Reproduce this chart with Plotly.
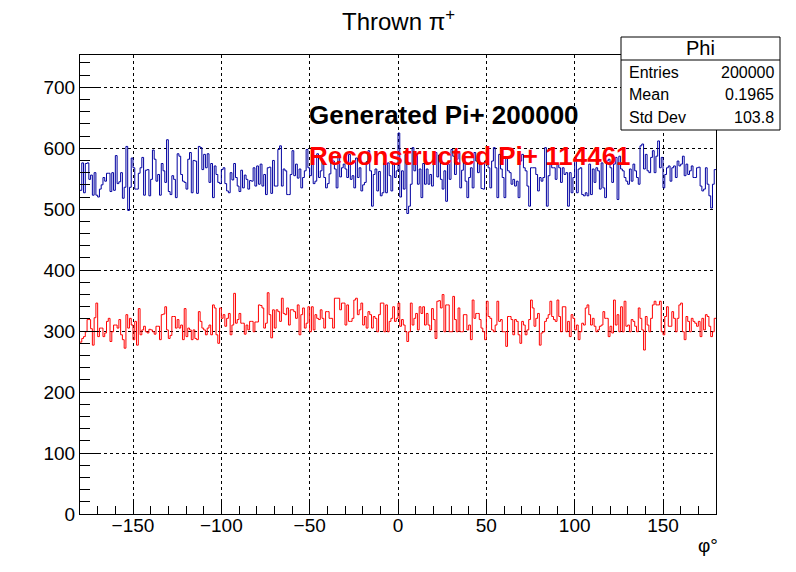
import numpy as np
import plotly.graph_objects as go

# 360 bins from -180 to 180 degrees
bin_lo, bin_hi, n_bins = -180.0, 180.0, 360

generated = [
    531,576,527,575,576,549,556,523,560,523,
    520,533,540,552,546,559,559,529,560,531,
    588,542,545,560,518,536,603,498,536,584,
    568,533,533,559,568,585,523,564,565,522,
    549,597,582,546,557,523,575,563,544,614,
    529,524,555,549,519,591,587,557,546,544,
    533,582,593,527,580,579,526,603,601,565,
    590,568,591,544,575,519,571,557,544,542,
    565,568,542,530,527,560,548,575,552,538,
    529,564,535,556,549,533,547,546,568,538,
    571,541,574,538,557,524,568,569,526,580,
    538,538,598,604,538,566,563,524,524,557,
    596,555,574,551,566,535,552,563,598,568,
    555,590,542,546,591,552,563,579,552,535,
    542,558,584,579,566,535,589,553,568,574,
    566,552,590,549,555,535,584,552,568,530,
    540,544,578,596,563,505,557,566,530,562,
    522,527,576,527,576,555,530,576,552,563,
    625,520,563,533,590,493,505,541,601,563,
    591,541,566,519,575,541,566,541,557,538,
    575,593,553,589,549,533,563,513,574,549,
    598,587,557,582,593,535,564,585,546,519,
    552,568,535,593,579,560,574,534,533,579,
    574,568,535,579,601,568,519,590,566,552,
    519,585,563,560,541,549,538,546,519,579,
    590,568,563,538,505,568,568,568,557,530,
    552,546,552,601,505,555,574,568,568,549,
    574,568,544,568,557,560,505,560,527,552,
    585,527,566,568,524,522,527,522,574,524,
    566,544,568,563,533,576,535,519,579,582,
    568,544,574,585,516,587,566,563,552,546,
    541,566,546,574,563,552,541,604,607,566,
    590,563,560,585,596,560,587,612,568,585,
    535,557,568,571,546,568,571,552,579,571,
    574,587,555,574,557,563,571,552,552,568,
    569,538,530,533,568,541,522,502,541,565,
]

reconstructed = [
    282,288,291,299,319,319,304,277,322,346,
    291,305,305,291,297,316,321,283,299,310,
    310,305,319,294,286,272,327,305,321,310,
    286,316,277,337,294,302,308,299,297,303,
    302,299,295,308,308,286,327,328,340,302,
    288,293,324,324,305,319,305,310,286,337,
    291,305,302,286,302,288,286,332,316,305,
    302,294,305,310,294,343,338,294,280,338,
    321,327,308,321,329,294,310,362,313,319,
    329,313,313,295,310,302,316,316,299,315,
    315,343,342,338,305,313,363,327,289,335,
    305,335,332,316,354,329,327,338,310,335,
    335,332,321,343,294,327,338,305,313,340,
    299,340,302,327,321,319,335,321,305,332,
    332,321,321,305,354,354,354,335,346,346,
    310,343,316,316,321,351,354,327,335,346,
    310,324,305,332,327,305,324,321,299,327,
    346,346,299,343,299,316,321,340,316,321,
    346,308,319,310,299,283,299,346,310,321,
    329,302,340,329,340,310,329,310,302,337,
    319,288,349,350,338,360,299,343,343,299,
    299,357,319,299,338,299,299,327,327,302,
    310,286,351,321,329,329,319,305,299,286,
    349,324,321,302,299,310,349,316,319,299,
    299,275,324,324,319,294,319,316,294,280,
    316,310,294,302,319,351,338,308,321,329,
    277,297,299,316,321,327,349,324,319,316,
    351,324,299,340,340,299,316,291,327,321,
    302,310,286,299,313,310,338,343,327,310,
    321,308,299,302,308,310,332,321,321,291,
    308,297,351,310,327,299,340,299,349,308,
    310,299,319,316,308,299,338,321,302,269,
    324,310,299,321,343,349,343,343,349,299,
    294,324,340,308,308,332,321,299,321,343,
    346,299,286,324,316,299,321,316,313,308,
    316,291,321,302,327,324,308,291,299,321,
]

stats_labels = ["Entries", "Mean", "Std Dev"]
stats_values = ["200000", "0.1965", "103.8"]
x_ticks = [-150, -100, -50, 0, 50, 100, 150]
y_ticks = [0, 100, 200, 300, 400, 500, 600, 700]

edges = np.linspace(bin_lo, bin_hi, n_bins + 1)


def step_xy(vals):
    return list(edges), list(vals) + [vals[-1]]


FONT = "Liberation Sans, Arial, Helvetica, sans-serif"

fig = go.Figure()
gx, gy = step_xy(generated)
rx, ry = step_xy(reconstructed)
fig.add_trace(go.Scatter(x=gx, y=gy, mode="lines", line=dict(color="#0000a0", width=1, shape="hv"),
                         hoverinfo="skip", showlegend=False))
fig.add_trace(go.Scatter(x=rx, y=ry, mode="lines", line=dict(color="#ff0000", width=1, shape="hv"),
                         hoverinfo="skip", showlegend=False))

axis_common = dict(
    showline=True, linecolor="black", linewidth=1, mirror=True,
    ticks="inside", tickcolor="black", tickwidth=1,
    showgrid=True, gridcolor="black", griddash="dot", gridwidth=1,
    zeroline=False, tickfont=dict(family=FONT, size=19, color="black"),
)

fig.update_xaxes(range=[bin_lo, bin_hi], tickmode="array", tickvals=x_ticks, ticklen=15,
                 ticklabelstandoff=-6,
                 minor=dict(ticks="inside", dtick=10, ticklen=8, tickcolor="black", showgrid=False),
                 **axis_common)
fig.update_yaxes(range=[0, 753], tickmode="array", tickvals=y_ticks, ticklen=19,
                 minor=dict(ticks="inside", dtick=20, ticklen=10, tickcolor="black", showgrid=False),
                 **axis_common)

# page has an 8px body margin; lay out in page pixel coordinates
OFF = 8
PL, PR, PT, PB = 80, 716, 55, 514   # plot area in page pixels
W, H = 796 - OFF, 572 - OFF
L, T = PL - OFF, PT - OFF
R = W - (PR - OFF)
B = H - (PB - OFF)
pw, ph = PR - PL, PB - PT


def px(x):
    return (x - PL) / pw


def py(y):
    return (PB - y) / ph


shapes = [
    dict(type="rect", xref="paper", yref="paper", x0=px(621), x1=px(780), y0=py(130), y1=py(37),
         line=dict(color="black", width=1), fillcolor="white", layer="above"),
    dict(type="line", xref="paper", yref="paper", x0=px(621), x1=px(780), y0=py(60), y1=py(60),
         line=dict(color="black", width=1), layer="above"),
]

annotations = [
    dict(text="Thrown π<sup>+</sup>", xref="paper", yref="paper", x=px(398), y=py(20),
         showarrow=False, font=dict(family=FONT, size=24, color="black"), xanchor="center", yanchor="middle"),
    dict(text="φ°", xref="paper", yref="paper", x=px(708), y=py(545),
         showarrow=False, font=dict(family=FONT, size=19, color="black"), xanchor="center", yanchor="middle"),
    dict(text="<b>Generated Pi+ 200000</b>", x=-51.5, y=654, xref="x", yref="y", showarrow=False,
         xanchor="left", yanchor="middle", font=dict(family=FONT, size=26, color="black")),
    dict(text="<b>Reconstructed Pi+ 114461</b>", x=-51.5, y=588, xref="x", yref="y", showarrow=False,
         xanchor="left", yanchor="middle", font=dict(family=FONT, size=26, color="#ff0000")),
    dict(text="Phi", xref="paper", yref="paper", x=px(700.5), y=py(48), showarrow=False,
         xanchor="center", yanchor="middle", font=dict(family=FONT, size=20, color="black")),
]

row_y = [72, 94, 117]
for lab, val, yy in zip(stats_labels, stats_values, row_y):
    annotations.append(dict(text=lab, xref="paper", yref="paper", x=px(627), y=py(yy), showarrow=False,
                            xanchor="left", yanchor="middle", font=dict(family=FONT, size=16, color="black")))
    annotations.append(dict(text=val, xref="paper", yref="paper", x=px(776), y=py(yy), showarrow=False,
                            xanchor="right", yanchor="middle", font=dict(family=FONT, size=16, color="black")))

fig.update_layout(
    width=W, height=H, margin=dict(l=L, r=R, t=T, b=B, pad=0),
    paper_bgcolor="white", plot_bgcolor="white",
    shapes=shapes, annotations=annotations, showlegend=False,
    font=dict(family=FONT, color="black"),
)

fig.write_html("out.html")
